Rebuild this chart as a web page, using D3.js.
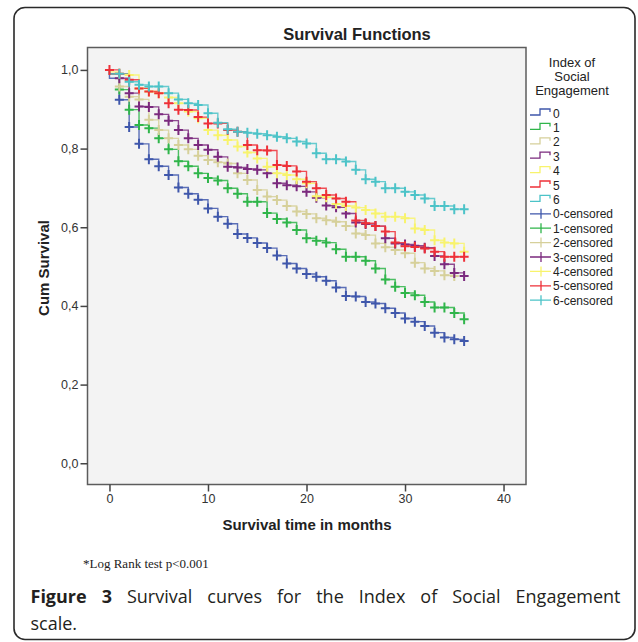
<!DOCTYPE html>
<html>
<head>
<meta charset="utf-8">
<script src="https://cdn.jsdelivr.net/npm/d3@7"></script>
<style>
  html, body { margin: 0; padding: 0; background: #fff; }
  svg { display: block; }
</style>
</head>
<body>
<svg id="chart" width="638" height="642"></svg>
<script>
// Kaplan-Meier survival by Index of Social Engagement

const months = [0, 1, 2, 3, 4, 5, 6, 7, 8, 9, 10, 11, 12, 13, 14, 15, 16, 17, 18,
    19, 20, 21, 22, 23, 24, 25, 26, 27, 28, 29, 30, 31, 32, 33, 34, 35, 36];

// survival after the step at each month
const surv0 = [0.979, 0.924, 0.855, 0.812, 0.773, 0.755, 0.733, 0.701, 0.685, 0.670, 0.648, 0.627,
    0.609, 0.583, 0.573, 0.560, 0.547, 0.528, 0.508, 0.495, 0.481, 0.474, 0.464, 0.447, 0.425,
    0.424, 0.410, 0.406, 0.394, 0.382, 0.368, 0.360, 0.349, 0.332, 0.320, 0.315, 0.311];
const surv1 = [0.990, 0.950, 0.899, 0.860, 0.852, 0.826, 0.798, 0.768, 0.755, 0.737, 0.725, 0.719,
    0.699, 0.685, 0.665, 0.665, 0.636, 0.621, 0.612, 0.593, 0.572, 0.566, 0.561, 0.544, 0.525,
    0.525, 0.515, 0.495, 0.467, 0.449, 0.433, 0.427, 0.410, 0.396, 0.396, 0.382, 0.366];
const surv2 = [0.990, 0.958, 0.932, 0.925, 0.873, 0.847, 0.826, 0.809, 0.798, 0.782, 0.771, 0.765,
    0.762, 0.737, 0.720, 0.695, 0.678, 0.669, 0.654, 0.640, 0.634, 0.623, 0.618, 0.614, 0.603,
    0.584, 0.580, 0.559, 0.549, 0.542, 0.534, 0.510, 0.495, 0.489, 0.478, 0.476];
const surv3 = [0.990, 0.979, 0.941, 0.907, 0.906, 0.887, 0.871, 0.847, 0.826, 0.809, 0.797, 0.779,
    0.754, 0.752, 0.748, 0.746, 0.737, 0.712, 0.707, 0.704, 0.690, 0.675, 0.655, 0.651, 0.635,
    0.612, 0.608, 0.603, 0.572, 0.559, 0.556, 0.553, 0.548, 0.527, 0.506, 0.484, 0.476];
const surv4 = [0.995, 0.990, 0.987, 0.953, 0.945, 0.941, 0.930, 0.915, 0.894, 0.877, 0.847, 0.834,
    0.822, 0.805, 0.790, 0.775, 0.754, 0.737, 0.733, 0.722, 0.712, 0.679, 0.676, 0.659, 0.654,
    0.650, 0.644, 0.635, 0.627, 0.627, 0.623, 0.597, 0.593, 0.567, 0.561, 0.559, 0.538];
const surv5 = [1.000, 0.990, 0.975, 0.953, 0.945, 0.941, 0.915, 0.899, 0.898, 0.880, 0.864, 0.864,
    0.847, 0.843, 0.809, 0.796, 0.795, 0.758, 0.756, 0.742, 0.716, 0.699, 0.682, 0.673, 0.665,
    0.617, 0.610, 0.603, 0.589, 0.561, 0.552, 0.550, 0.546, 0.538, 0.525, 0.525, 0.525];
const surv6 = [0.990, 0.990, 0.970, 0.962, 0.958, 0.958, 0.941, 0.925, 0.915, 0.911, 0.890, 0.866,
    0.849, 0.843, 0.840, 0.838, 0.834, 0.830, 0.826, 0.818, 0.813, 0.788, 0.773, 0.773, 0.767,
    0.746, 0.722, 0.716, 0.699, 0.699, 0.690, 0.682, 0.673, 0.654, 0.654, 0.646, 0.646];

// months where a censored case is marked
const censorMonths = [1, 2, 3, 4, 5, 6, 7, 8, 9, 10, 11, 12, 13, 14, 15, 16, 17, 18,
    19, 20, 21, 22, 23, 24, 25, 26, 27, 28, 29, 30, 31, 32, 33, 34, 35, 36];

const groupNames = ["0", "1", "2", "3", "4", "5", "6"];
const groupColors = ["#3f57ab", "#2fb54a", "#d6d09a", "#7b2a7e", "#f8f36c", "#ee3038", "#4cc3c8"];
const groupSurv = [surv0, surv1, surv2, surv3, surv4, surv5, surv6];

const xTicks = [0, 10, 20, 30, 40];
const yTicks = [0.0, 0.2, 0.4, 0.6, 0.8, 1.0];

const legendTitle = ["Index of", "Social", "Engagement"];

const svg = d3.select("#chart");
const sansFont = "Liberation Sans, Arial, sans-serif";

// outer figure frame
svg.append("rect")
    .attr("x", 14).attr("y", 7.5)
    .attr("width", 621).attr("height", 632)
    .attr("rx", 11)
    .attr("fill", "#fff")
    .attr("stroke", "#2a2a2a")
    .attr("stroke-width", 1.6);

// plot area
const plot = { left: 87.5, right: 526, top: 47.5, bottom: 484.5 };

const x = d3.scaleLinear().domain([-2.23, 42.28]).range([plot.left, plot.right]);
const y = d3.scaleLinear().domain([-0.054, 1.057]).range([plot.bottom, plot.top]);

svg.append("rect")
    .attr("x", plot.left).attr("y", plot.top)
    .attr("width", plot.right - plot.left)
    .attr("height", plot.bottom - plot.top)
    .attr("fill", "#f3f3f3")
    .attr("stroke", "#5c5c5c")
    .attr("stroke-width", 1.5);

// title
svg.append("text")
    .attr("x", 357).attr("y", 40)
    .attr("text-anchor", "middle")
    .attr("font-family", sansFont)
    .attr("font-weight", "bold")
    .attr("font-size", "16.5px")
    .attr("fill", "#222")
    .text("Survival Functions");

// axes
const yAxis = d3.axisLeft(y)
    .tickValues(yTicks)
    .tickSize(7)
    .tickPadding(2)
    .tickFormat(d => d.toFixed(1).replace(".", ","));

const xAxis = d3.axisBottom(x)
    .tickValues(xTicks)
    .tickSize(7)
    .tickPadding(3);

function styleAxis(g) {
    g.select(".domain").remove();
    g.selectAll(".tick line").attr("stroke", "#444").attr("stroke-width", 1.5);
    g.selectAll(".tick text")
        .attr("fill", "#333")
        .attr("font-family", sansFont)
        .attr("font-size", "12.5px");
}

svg.append("g")
    .attr("transform", `translate(${plot.left},0)`)
    .call(yAxis)
    .call(styleAxis);

svg.append("g")
    .attr("transform", `translate(0,${plot.bottom})`)
    .call(xAxis)
    .call(styleAxis);

// axis titles
svg.append("text")
    .attr("transform", "translate(49,268) rotate(-90)")
    .attr("text-anchor", "middle")
    .attr("font-family", sansFont)
    .attr("font-weight", "bold")
    .attr("font-size", "15px")
    .attr("fill", "#222")
    .text("Cum Survival");

svg.append("text")
    .attr("x", 307).attr("y", 530)
    .attr("text-anchor", "middle")
    .attr("font-family", sansFont)
    .attr("font-weight", "bold")
    .attr("font-size", "15px")
    .attr("fill", "#222")
    .text("Survival time in months");

// survival curves
const stepLine = d3.line()
    .x(d => x(d[0]))
    .y(d => y(d[1]))
    .curve(d3.curveStepAfter);

const curves = svg.append("g");
const marks = svg.append("g");

groupSurv.forEach((vals, i) => {
    const pts = [[0, 1]].concat(vals.map((v, j) => [months[j], v]));
    curves.append("path")
        .attr("d", stepLine(pts))
        .attr("fill", "none")
        .attr("stroke", groupColors[i])
        .attr("stroke-width", 1.4)
        .attr("stroke-opacity", 0.85);

    const censored = censorMonths.filter(m => m < vals.length);
    const g = marks.append("g").attr("stroke", groupColors[i]).attr("stroke-width", 2);
    censored.forEach(m => {
        const cx = x(m), cy = y(vals[m]);
        g.append("path")
            .attr("d", `M${cx - 4.5},${cy}H${cx + 4.5}M${cx},${cy - 5}V${cy + 5}`);
    });
});

// start mark for group 5 at t = 0
marks.append("path")
    .attr("d", `M${x(0) - 4.5},${y(surv5[0])}H${x(0) + 4.5}M${x(0)},${y(surv5[0]) - 5}V${y(surv5[0]) + 5}`)
    .attr("stroke", groupColors[5])
    .attr("stroke-width", 2);

// legend
const legend = svg.append("g");
legendTitle.forEach((t, i) => {
    legend.append("text")
        .attr("x", 572).attr("y", 67 + i * 14)
        .attr("text-anchor", "middle")
        .attr("font-family", sansFont)
        .attr("font-size", "13px")
        .attr("fill", "#222")
        .text(t);
});

const itemY = i => 113 + i * 14.4;

groupNames.forEach((name, i) => {
    const cy = itemY(i);
    legend.append("path")
        .attr("d", `M530,${cy + 2}H540V${cy - 4}H550V${cy - 1}`)
        .attr("fill", "none")
        .attr("stroke", groupColors[i])
        .attr("stroke-width", 1.3);
    legend.append("text")
        .attr("x", 553).attr("y", cy + 4.5)
        .attr("font-family", sansFont)
        .attr("font-size", "12px")
        .attr("fill", "#222")
        .text(name);
});

groupNames.forEach((name, i) => {
    const cy = itemY(i + groupNames.length);
    legend.append("path")
        .attr("d", `M530,${cy}H551M541,${cy - 5}V${cy + 5}`)
        .attr("stroke", groupColors[i])
        .attr("stroke-width", 1.3);
    legend.append("text")
        .attr("x", 553).attr("y", cy + 4.5)
        .attr("font-family", sansFont)
        .attr("font-size", "12px")
        .attr("fill", "#222")
        .text(name + "-censored");
});

// footnote and figure caption
svg.append("text")
    .attr("x", 83).attr("y", 568)
    .attr("font-family", "Liberation Serif, Times New Roman, serif")
    .attr("font-size", "13px")
    .attr("fill", "#222")
    .text("*Log Rank test p<0.001");

const captionFont = "Open Sans, Noto Sans, sans-serif";
const cap = svg.append("text")
    .attr("x", 30.5).attr("y", 603)
    .attr("font-family", captionFont)
    .attr("font-size", "18px")
    .attr("fill", "#231f20");
cap.append("tspan").attr("font-weight", "bold").text("Figure 3");
cap.append("tspan").text(" Survival curves for the Index of Social Engagement");

// justify the first caption line by stretching the word gaps
const capWidth = 590;
const natural = cap.node().getComputedTextLength();
const gaps = 9;
if (natural < capWidth) cap.attr("word-spacing", (capWidth - natural) / gaps);

svg.append("text")
    .attr("x", 30.5).attr("y", 630)
    .attr("font-family", captionFont)
    .attr("font-size", "18px")
    .attr("fill", "#231f20")
    .text("scale.");
</script>
</body>
</html>
